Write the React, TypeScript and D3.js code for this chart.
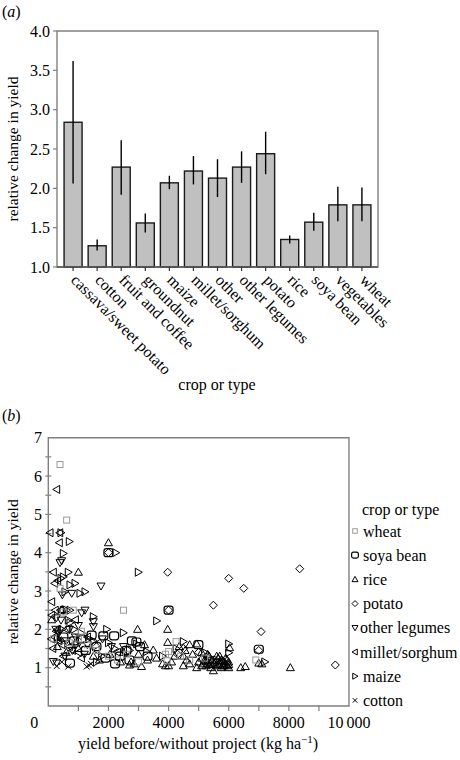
import React from 'react';
import * as d3 from 'd3';

// ---------- panel (a) data ----------
const crops = ['cassava/sweet potato', 'cotton', 'fruit and coffee', 'groundnut', 'maize', 'millet/sorghum', 'other', 'other legumes', 'potato', 'rice', 'soya bean', 'vegetables', 'wheat'];
const meanChange = [2.84, 1.27, 2.27, 1.56, 2.07, 2.22, 2.13, 2.27, 2.44, 1.35, 1.57, 1.79, 1.79];
const errLow = [2.06, 1.21, 1.92, 1.44, 1.99, 2.05, 1.89, 2.07, 2.18, 1.30, 1.46, 1.58, 1.58];
const errHigh = [3.62, 1.35, 2.61, 1.68, 2.16, 2.41, 2.37, 2.47, 2.72, 1.40, 1.69, 2.02, 2.01];
const yTicksA = [1.0, 1.5, 2.0, 2.5, 3.0, 3.5, 4.0];

// ---------- panel (b) data: [yield before (kg/ha), relative change] ----------
const wheat = [[390, 6.3], [610, 4.85], [390, 3.07], [2500, 2.5], [830, 2.5], [170, 1.75], [500, 2.45], [1000, 1.75], [1100, 1.95], [1600, 1.45], [2000, 1.3], [2300, 1.2], [2600, 1.35], [3900, 1.35], [3950, 1.18], [4000, 1.42], [4250, 1.68], [4400, 1.3], [4700, 1.2], [5200, 1.25], [6900, 1.2], [3000, 1.15], [1300, 1.6], [700, 1.65]];
const soyaBean = [[1440, 1.85], [1830, 1.83], [2190, 1.83], [2780, 1.7], [2930, 1.67], [720, 1.12], [2220, 1.1], [2380, 1.3], [4000, 2.5], [2000, 4.0], [7000, 1.48], [4990, 1.6], [1100, 1.75], [1600, 1.55], [1900, 1.25], [2600, 1.45], [3050, 1.55], [500, 1.8], [850, 1.7], [1250, 1.45], [3300, 1.3], [2700, 1.2]];
const rice = [[2000, 4.26], [1000, 3.49], [460, 2.52], [2970, 2.0], [3970, 2.0], [3970, 1.66], [4935, 1.62], [3490, 1.46], [113, 2.25], [300, 1.55], [600, 1.4], [1000, 1.5], [1500, 1.3], [1700, 1.2], [2050, 1.35], [2400, 1.15], [2700, 1.07], [2750, 1.15], [2850, 1.1], [3100, 1.03], [3300, 1.2], [3600, 1.25], [3800, 1.1], [3900, 1.05], [4000, 1.05], [4100, 1.15], [4200, 1.3], [4350, 1.55], [4490, 1.05], [4500, 1.3], [4550, 1.45], [4600, 1.2], [4700, 1.1], [4800, 1.35], [4935, 1.0], [5000, 1.15], [5100, 1.25], [5150, 1.1], [5200, 1.2], [5250, 1.05], [5300, 1.15], [5350, 1.3], [5400, 1.1], [5450, 1.2], [5490, 0.92], [5550, 1.15], [5600, 1.05], [5650, 1.25], [5700, 1.1], [5750, 1.2], [5800, 1.05], [5850, 1.15], [5900, 1.1], [5950, 1.2], [6000, 1.08], [6000, 1.15], [6029, 1.52], [6000, 1.0], [6400, 1.0], [6550, 1.03], [7000, 1.12], [7100, 1.1], [8050, 1.0], [3000, 1.35], [3200, 1.6], [2500, 1.4], [4700, 1.6], [5100, 1.4], [5300, 1.35], [5600, 1.3], [5400, 1.0], [5700, 1.3], [5850, 1.05], [5100, 1.05], [5250, 1.18], [5500, 1.12], [5650, 1.08], [5800, 1.18], [5950, 1.05], [5350, 1.08], [5750, 1.0], [5900, 1.25]];
const potato = [[3970, 3.49], [6000, 3.33], [6500, 3.07], [5490, 2.63], [7075, 1.94], [8360, 3.58], [9545, 1.07], [4000, 2.5], [4500, 1.5], [5000, 1.4], [2000, 4.0], [7000, 1.45], [4300, 1.35], [5300, 1.25]];
const otherLegumes = [[445, 3.79], [389, 3.74], [778, 2.94], [466, 2.9], [1753, 3.13], [1110, 2.43], [1220, 2.5], [270, 2.3], [422, 2.24], [1497, 2.2], [1500, 2.07], [279, 1.12], [166, 1.16], [600, 1.7], [900, 1.8], [1300, 1.6], [700, 2.0], [1000, 2.1], [350, 1.9], [1200, 1.35], [2100, 1.55], [800, 1.45], [550, 1.3], [1800, 1.75], [2500, 1.55], [250, 2.0]];
const milletSorghum = [[279, 5.65], [57, 4.52], [380, 4.52], [366, 4.26], [166, 3.49], [210, 3.2], [312, 3.27], [113, 2.72], [113, 2.37], [230, 2.5], [300, 2.0], [600, 2.0], [200, 1.8], [350, 1.7], [150, 1.5], [800, 1.45], [500, 1.3], [400, 2.5], [260, 1.95], [450, 1.6], [700, 1.55], [1000, 1.4], [1300, 1.8], [900, 2.25], [1100, 1.25], [100, 1.75], [1600, 1.45], [2300, 1.4]];
const maize = [[420, 4.52], [698, 4.29], [500, 3.98], [2242, 4.0], [2993, 3.49], [665, 3.49], [422, 3.33], [500, 3.37], [722, 3.16], [888, 3.2], [555, 2.98], [1054, 2.94], [1220, 2.98], [500, 2.5], [612, 2.5], [722, 2.5], [665, 2.24], [720, 2.17], [1497, 2.33], [1942, 2.0], [2495, 1.91], [3605, 2.22], [4490, 1.68], [2940, 1.62], [3272, 1.42], [6000, 1.39], [7200, 1.15], [1100, 1.9], [1500, 1.7], [2200, 1.5], [1776, 1.3], [850, 2.0], [450, 2.0], [950, 1.6], [1350, 1.75], [2700, 1.45], [3800, 1.3], [4250, 1.5], [5200, 1.4], [5600, 1.2], [300, 1.75], [1600, 1.15], [2000, 1.65], [6000, 1.62]];
const cotton = [[279, 1.04], [665, 1.03], [1277, 1.03], [1350, 1.06], [1420, 1.1], [400, 1.7], [1000, 1.8], [1600, 1.65], [450, 1.15]];

const legendNames = ['wheat', 'soya bean', 'rice', 'potato', 'other legumes', 'millet/sorghum', 'maize', 'cotton'];
const xTicksB = [0, 2000, 4000, 6000, 8000, 10000];
const xMinorB = [1000, 2000, 3000, 4000, 5000, 6000, 7000, 8000, 9000];
const yTicksB = [1, 2, 3, 4, 5, 6, 7];
const yMinorB = [0.5, 1, 1.5, 2, 2.5, 3, 3.5, 4, 4.5, 5, 5.5, 6, 6.5];

const FONT = '"Liberation Serif", "Times New Roman", serif';
const GRAY = '#808080';

function marker(kind: string, x: number, y: number, s: number, key: string | number) {
  const k = s;
  switch (kind) {
    case 'wheat':
      return <rect key={key} x={x - 3 * k} y={y - 3 * k} width={6 * k} height={6 * k} fill="none" stroke="#9a9a9a" strokeWidth={1} />;
    case 'soya bean':
      return <rect key={key} x={x - 4.5 * k} y={y - 4 * k} width={9 * k} height={8 * k} rx={2.5 * k} fill="none" stroke="#000" strokeWidth={1.2} />;
    case 'rice':
      return <path key={key} d={`M${x - 4 * k},${y + 3 * k}L${x + 4 * k},${y + 3 * k}L${x},${y - 4 * k}Z`} fill="none" stroke="#000" strokeWidth={1} />;
    case 'other legumes':
      return <path key={key} d={`M${x - 4 * k},${y - 3 * k}L${x + 4 * k},${y - 3 * k}L${x},${y + 4 * k}Z`} fill="none" stroke="#000" strokeWidth={1} />;
    case 'millet/sorghum':
      return <path key={key} d={`M${x + 3 * k},${y - 4 * k}L${x + 3 * k},${y + 4 * k}L${x - 4 * k},${y}Z`} fill="none" stroke="#000" strokeWidth={1} />;
    case 'maize':
      return <path key={key} d={`M${x - 3 * k},${y - 4 * k}L${x - 3 * k},${y + 4 * k}L${x + 4 * k},${y}Z`} fill="none" stroke="#000" strokeWidth={1} />;
    case 'potato':
      return <path key={key} d={`M${x},${y - 4 * k}L${x + 4 * k},${y}L${x},${y + 4 * k}L${x - 4 * k},${y}Z`} fill="none" stroke="#000" strokeWidth={1} />;
    case 'cotton':
      return <path key={key} d={`M${x - 3 * k},${y - 3 * k}L${x + 3 * k},${y + 3 * k}M${x - 3 * k},${y + 3 * k}L${x + 3 * k},${y - 3 * k}`} fill="none" stroke="#000" strokeWidth={1} />;
    default:
      return null;
  }
}

export default function App() {
  // panel (a)
  const xA = d3.scaleBand<string>().domain(crops).range([57, 378]).paddingInner(0.252).paddingOuter(0.294);
  const yA = d3.scaleLinear().domain([1, 4]).range([267, 31]);

  // panel (b)
  const xB = d3.scaleLinear().domain([0, 10000]).range([48.3, 349]);
  const yB = d3.scaleLinear().domain([0, 7]).range([706, 437.7]);

  const series: [string, number[][]][] = [
    ['cotton', cotton],
    ['maize', maize],
    ['millet/sorghum', milletSorghum],
    ['other legumes', otherLegumes],
    ['potato', potato],
    ['rice', rice],
    ['soya bean', soyaBean],
    ['wheat', wheat],
  ];

  return (
    <svg width={460} height={760} style={{ position: 'absolute', left: 0, top: 0, background: '#fff' }} fontFamily={FONT}>
      <rect x={0} y={0} width={460} height={760} fill="#fff" />
      {/* ---------------- panel (a) ---------------- */}
      <text x={2} y={17} fontSize={16}>(<tspan fontStyle="italic">a</tspan>)</text>

      {crops.map((c, i) => {
        const x0 = xA(c)!;
        const bw = xA.bandwidth();
        const cx = x0 + bw / 2;
        return (
          <g key={c}>
            <rect x={x0} y={yA(meanChange[i])} width={bw} height={yA(1) - yA(meanChange[i])} fill="#c0c0c0" stroke="#1a1a1a" strokeWidth={1.4} />
            <line x1={cx} x2={cx} y1={yA(errHigh[i])} y2={yA(errLow[i])} stroke="#000" strokeWidth={1.4} />
          </g>
        );
      })}
      {/* frame */}
      <path d={`M57,${yA(1)}L57,${yA(4)}L378,${yA(4)}L378,${yA(1)}Z`} fill="none" stroke={GRAY} strokeWidth={1.4} />
      <line x1={57} x2={378} y1={yA(1)} y2={yA(1)} stroke="#333" strokeWidth={1.2} />
      {yTicksA.map((t) => (
        <g key={t}>
          <line x1={53} x2={57} y1={yA(t)} y2={yA(t)} stroke={GRAY} strokeWidth={1.2} />
          <text x={50} y={yA(t)} dy="0.35em" textAnchor="end" fontSize={16}>{t.toFixed(1)}</text>
        </g>
      ))}
      {crops.map((c) => {
        const cx = xA(c)! + xA.bandwidth() / 2;
        return (
          <g key={'t' + c}>
            <line x1={cx} x2={cx} y1={yA(1)} y2={yA(1) + 4} stroke="#333" strokeWidth={1.2} />
            <text transform={`translate(${cx - 3},${yA(1) + 14}) rotate(45)`} fontSize={16}>{c}</text>
          </g>
        );
      })}
      <text transform={`translate(18,${(yA(1) + yA(4)) / 2}) rotate(-90)`} textAnchor="middle" fontSize={15.5}>relative change in yield</text>
      <text x={217} y={390} textAnchor="middle" fontSize={16}>crop or type</text>

      {/* ---------------- panel (b) ---------------- */}
      <text x={2} y={421} fontSize={16}>(<tspan fontStyle="italic">b</tspan>)</text>
      <path d={`M${xB(0)},${yB(0)}L${xB(0)},${yB(7)}L${xB(10000)},${yB(7)}L${xB(10000)},${yB(0)}Z`} fill="none" stroke={GRAY} strokeWidth={1.4} />
      {yMinorB.map((t) => (
        <line key={'ym' + t} x1={xB(0) - 3} x2={xB(0) + 3} y1={yB(t)} y2={yB(t)} stroke={GRAY} strokeWidth={1.2} />
      ))}
      {yTicksB.map((t) => (
        <text key={'yt' + t} x={42} y={yB(t)} dy="0.35em" textAnchor="end" fontSize={16}>{t}</text>
      ))}
      {xMinorB.map((t) => (
        <line key={'xm' + t} x1={xB(t)} x2={xB(t)} y1={yB(0) - 1} y2={yB(0) + 5} stroke={GRAY} strokeWidth={1.2} />
      ))}
      {xTicksB.map((t) => (
        <text key={'xt' + t} x={xB(t)} dx={t === 0 ? -14 : 0} y={728} textAnchor="middle" fontSize={16}>
          {t >= 10000 ? d3.format(',')(t).replace(',', '\u2009') : t}
        </text>
      ))}
      <text transform={`translate(18,${(yB(0) + yB(7)) / 2}) rotate(-90)`} textAnchor="middle" fontSize={15.5}>relative change in yield</text>
      <text x={198} y={749} textAnchor="middle" fontSize={16}>
        yield before/without project (kg ha<tspan dy={-6} fontSize={11}>−1</tspan><tspan dy={6}>)</tspan>
      </text>

      {series.map(([name, pts]) => (
        <g key={name}>{pts.map((p, i) => marker(name, xB(p[0]), yB(p[1]), 1, name + i))}</g>
      ))}

      {/* legend */}
      <text x={362} y={515} fontSize={16}>crop or type</text>
      {legendNames.map((n, i) => {
        const y = 531 + i * 24.2;
        const long = n === 'other legumes' || n === 'millet/sorghum';
        return (
          <g key={'lg' + n}>
            {marker(n, 355, y, 0.75, 'lm' + n)}
            <text x={long ? 360 : 363} y={y} dy="0.35em" fontSize={16}>{n}</text>
          </g>
        );
      })}
    </svg>
  );
}
